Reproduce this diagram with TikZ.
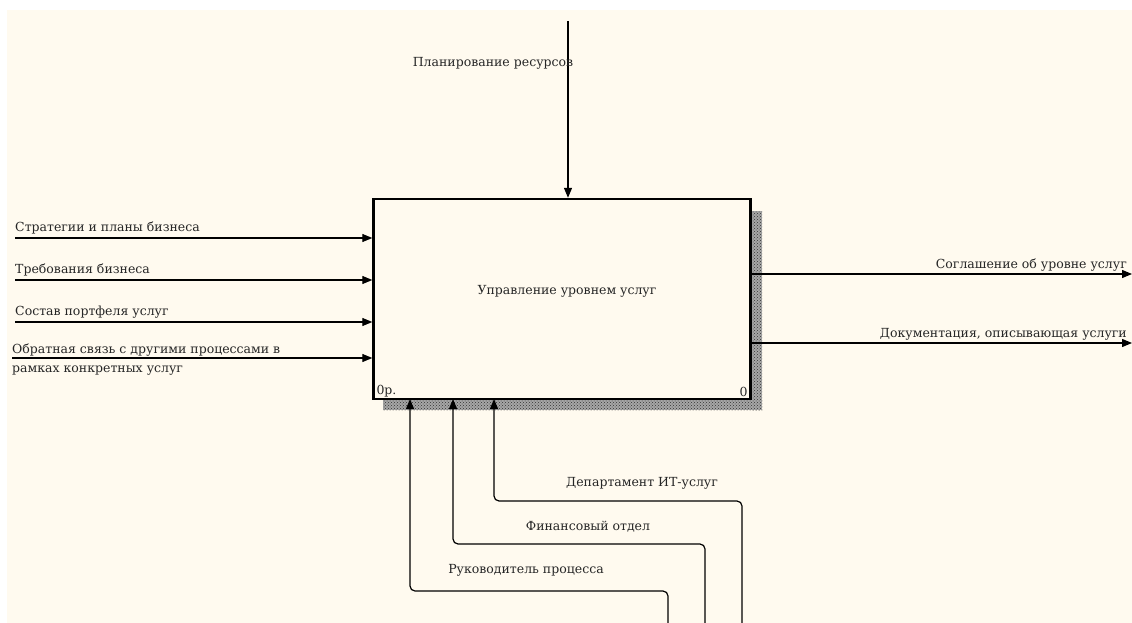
\documentclass[tikz,border=0pt]{standalone}
\usepackage{fontspec}
\setmainfont{DejaVu Serif}
\usetikzlibrary{arrows.meta,patterns}
\definecolor{bgcream}{HTML}{FFFAEF}
\tikzset{
  lbl/.style={font=\fontsize{12.5}{14}\selectfont, inner sep=0pt, text=black!85},
  arr/.style={line width=1.2pt, -{Triangle[length=10pt,width=8pt]}},
  funcbox/.style={draw, line width=2.4pt, fill=bgcream, minimum width=377pt, minimum height=200pt, inner sep=0pt},
  shadowfill/.style={fill=black!35, postaction={pattern=crosshatch dots, pattern color=black!80}},
}
\begin{document}
\begin{tikzpicture}[x=1pt,y=-1pt]
\useasboundingbox (0,0) rectangle (1132,623);
\fill[white] (0,0) rectangle (1132,623);
\fill[bgcream] (7,10) rectangle (1132,623);
% shadow
\path[shadowfill] (751,211) rectangle (762,410);
\path[shadowfill] (383,399) rectangle (762,410);
% main box
\node[funcbox] (box) at (562,299) {};
\node[lbl] (boxtxt) at (567,291) {Управление уровнем услуг};
\node[lbl, anchor=south west] (num1) at ([xshift=4pt,yshift=3pt]box.south west) {0р.};
\node[lbl, anchor=south east] (num2) at ([xshift=-4pt,yshift=3pt]box.south east) {0};
% control
\coordinate (c1) at (568,21);
\draw[arr] (c1) -- (c1 |- box.north);
\node[lbl] (c1l) at (493,63) {Планирование ресурсов};
% inputs
\coordinate (i1) at (15,238);
\coordinate (i2) at (15,280);
\coordinate (i3) at (15,322);
\coordinate (i4) at (12,358);
\draw[arr] (i1) -- (i1 -| box.west);
\draw[arr] (i2) -- (i2 -| box.west);
\draw[arr] (i3) -- (i3 -| box.west);
\draw[arr] (i4) -- (i4 -| box.west);
\node[lbl, anchor=base west] (i1l) at (15,231) {Стратегии и планы бизнеса};
\node[lbl, anchor=base west] (i2l) at (15,273) {Требования бизнеса};
\node[lbl, anchor=base west] (i3l) at (15,315) {Состав портфеля услуг};
\node[lbl, anchor=base west] (i4l) at (12,353) {Обратная связь с другими процессами в};
\node[lbl, anchor=base west] (i4m) at (12,372) {рамках конкретных услуг};
% outputs
\coordinate (o1) at (1132,274);
\coordinate (o2) at (1132,343);
\draw[arr] (o1 -| box.east) -- (o1);
\draw[arr] (o2 -| box.east) -- (o2);
\node[lbl, anchor=base east] (o1l) at (1127,268) {Соглашение об уровне услуг};
\node[lbl, anchor=base east] (o2l) at (1127,337) {Документация, описывающая услуги};
% mechanisms
\coordinate (m1) at (742,623);
\coordinate (m2) at (705,623);
\coordinate (m3) at (668,623);
\draw[arr, rounded corners=5pt] (m1) -- (742,501) -- (494,501) -- (494,399);
\draw[arr, rounded corners=5pt] (m2) -- (705,544) -- (453,544) -- (453,399);
\draw[arr, rounded corners=5pt] (m3) -- (668,591) -- (410,591) -- (410,399);
\node[lbl] (m1l) at (642,483) {Департамент ИТ-услуг};
\node[lbl] (m2l) at (588,527) {Финансовый отдел};
\node[lbl] (m3l) at (526,570) {Руководитель процесса};
\end{tikzpicture}
\end{document}
